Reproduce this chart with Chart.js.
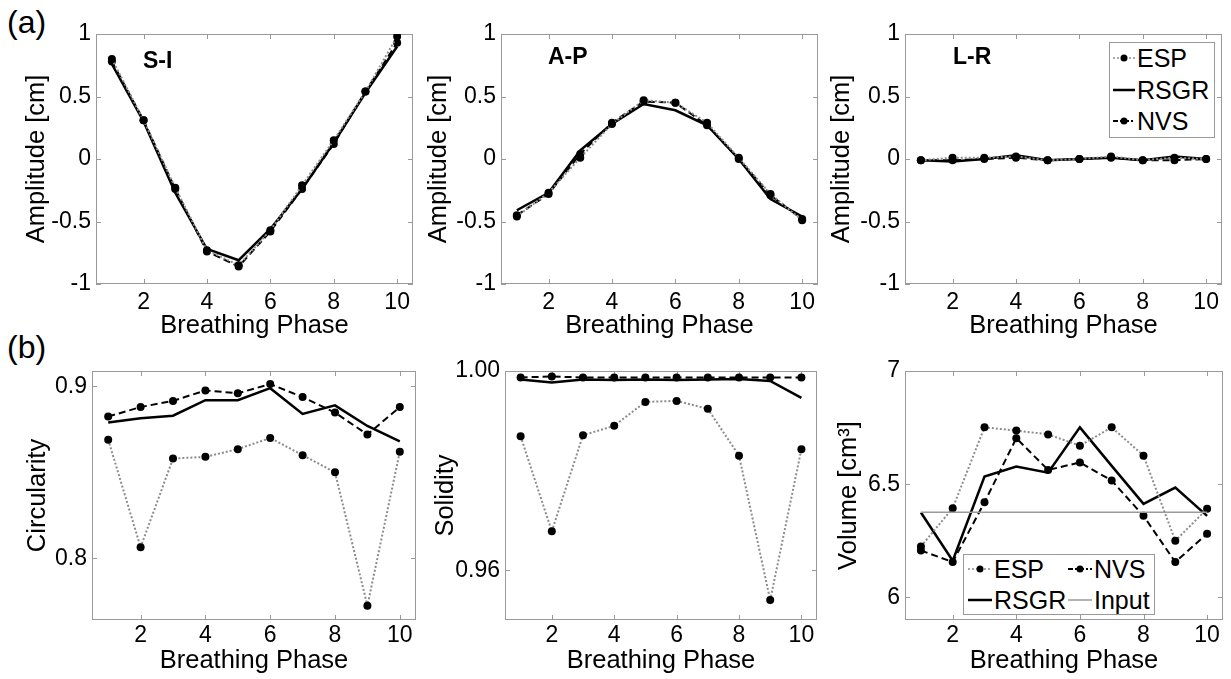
<!DOCTYPE html>
<html>
<head>
<meta charset="utf-8">
<script src="https://cdn.jsdelivr.net/npm/chart.js@4.4.0/dist/chart.umd.min.js"></script>
<style>
  body { margin: 0; background: #fff; width: 1231px; height: 679px; position: relative; overflow: hidden;
         font-family: "Liberation Sans", Arial, sans-serif; color: #000; }
  canvas { position: absolute; }
  .tag { position: absolute; font-size: 32px; line-height: 32px; }
  .ptitle { position: absolute; font-size: 23px; line-height: 24px; font-weight: bold; }
  .legend { position: absolute; border: 1px solid #9a9a9a; background: #fff; box-sizing: border-box; }
  .item { position: absolute; display: flex; align-items: center; height: 28px; font-size: 25px; white-space: nowrap; }
  .item svg { margin-right: 2px; }
</style>
</head>
<body>
<div class="tag" style="left:7px;top:6px">(a)</div>
<div class="tag" style="left:7px;top:331px">(b)</div>

<canvas id="si" width="420" height="345" style="left:0;top:0"></canvas>
<canvas id="ap" width="405" height="345" style="left:420px;top:0"></canvas>
<canvas id="lr" width="406" height="345" style="left:825px;top:0"></canvas>
<canvas id="circ" width="420" height="344" style="left:0;top:335px"></canvas>
<canvas id="sol" width="405" height="344" style="left:420px;top:335px"></canvas>
<canvas id="vol" width="406" height="344" style="left:825px;top:335px"></canvas>

<div class="ptitle" style="left:143px;top:48px">S-I</div>
<div class="ptitle" style="left:548px;top:44px">A-P</div>
<div class="ptitle" style="left:953px;top:44px">L-R</div>

<div class="legend" style="left:1109px;top:42px;width:106px;height:96px">
  <div class="item" style="left:3px;top:1px"><svg width="22" height="10"><line x1="0" y1="5" x2="22" y2="5" stroke="#8c8c8c" stroke-width="1.5" stroke-dasharray="2,2"/><circle cx="11" cy="5" r="3.5" fill="#000"/></svg>ESP</div>
  <div class="item" style="left:3px;top:33px"><svg width="22" height="10"><line x1="0" y1="5" x2="22" y2="5" stroke="#000" stroke-width="2.5"/></svg>RSGR</div>
  <div class="item" style="left:3px;top:64px"><svg width="22" height="10"><line x1="0" y1="5" x2="22" y2="5" stroke="#000" stroke-width="2" stroke-dasharray="5,2,2,2"/><circle cx="11" cy="5" r="3.5" fill="#000"/></svg>NVS</div>
</div>

<div class="legend" style="left:963px;top:554px;width:192px;height:61px">
  <div class="item" style="left:4px;top:0px"><svg width="24" height="10"><line x1="0" y1="5" x2="24" y2="5" stroke="#8c8c8c" stroke-width="1.5" stroke-dasharray="2,2"/><circle cx="12" cy="5" r="3.5" fill="#000"/></svg>ESP</div>
  <div class="item" style="left:104px;top:0px"><svg width="24" height="10"><line x1="0" y1="5" x2="24" y2="5" stroke="#000" stroke-width="2" stroke-dasharray="5,2,2,2"/><circle cx="12" cy="5" r="3.5" fill="#000"/></svg>NVS</div>
  <div class="item" style="left:4px;top:31px"><svg width="24" height="10"><line x1="0" y1="5" x2="24" y2="5" stroke="#000" stroke-width="2.5"/></svg>RSGR</div>
  <div class="item" style="left:104px;top:31px"><svg width="24" height="10"><line x1="0" y1="5" x2="24" y2="5" stroke="#999" stroke-width="1.5"/></svg>Input</div>
</div>

<script>
// ---- data ----
const phases = [1, 2, 3, 4, 5, 6, 7, 8, 9, 10];
const phaseTicks = [2, 4, 6, 8, 10];

const ampTicks = [-1, -0.5, 0, 0.5, 1];
const siESP  = [0.80, 0.31, -0.23, -0.73, -0.85, -0.57, -0.21, 0.15, 0.54, 0.98];
const siNVS  = [0.78, 0.31, -0.24, -0.74, -0.86, -0.58, -0.24, 0.12, 0.54, 0.93];
const siRSGR = [0.76, 0.30, -0.27, -0.72, -0.81, -0.56, -0.24, 0.13, 0.53, 0.90];

const apESP  = [-0.46, -0.27, 0.01, 0.28, 0.47, 0.45, 0.29, 0.01, -0.28, -0.49];
const apNVS  = [-0.45, -0.28, 0.04, 0.29, 0.46, 0.45, 0.27, 0.00, -0.29, -0.48];
const apRSGR = [-0.41, -0.27, 0.07, 0.28, 0.44, 0.39, 0.27, 0.00, -0.32, -0.46];

const lrESP  = [-0.01, 0.01, 0.01, 0.02, -0.01, 0.00, 0.02, -0.01, 0.01, 0.00];
const lrNVS  = [-0.01, -0.01, 0.00, 0.01, -0.01, 0.00, 0.01, -0.01, -0.01, 0.00];
const lrRSGR = [-0.01, -0.02, 0.00, 0.03, -0.01, 0.00, 0.01, -0.01, 0.02, 0.00];

const circTicks = [0.8, 0.9];
const circESP  = [0.869, 0.8064, 0.858, 0.859, 0.8635, 0.870, 0.860, 0.850, 0.7723, 0.862];
const circNVS  = [0.8825, 0.888, 0.8916, 0.8977, 0.896, 0.9014, 0.8938, 0.8848, 0.872, 0.888];
const circRSGR = [0.879, 0.8815, 0.883, 0.892, 0.892, 0.899, 0.884, 0.889, 0.877, 0.868];

const solTicks = [0.96, 1.00];
const solESP  = [0.9869, 0.9678, 0.9871, 0.9890, 0.9938, 0.9940, 0.9924, 0.9830, 0.9540, 0.9843];
const solNVS  = [0.9987, 0.9989, 0.9987, 0.9987, 0.9987, 0.9987, 0.9987, 0.9987, 0.9987, 0.9987];
const solRSGR = [0.9983, 0.9977, 0.9983, 0.9982, 0.9983, 0.9982, 0.9983, 0.9984, 0.9980, 0.9946];

const volTicks = [6, 6.5, 7];
const volESP   = [6.225, 6.394, 6.751, 6.737, 6.720, 6.670, 6.751, 6.626, 6.250, 6.391];
const volNVS   = [6.207, 6.156, 6.420, 6.703, 6.563, 6.596, 6.516, 6.360, 6.156, 6.281];
const volRSGR  = [6.375, 6.162, 6.534, 6.578, 6.551, 6.751, 6.581, 6.413, 6.485, 6.360];
const volInput = [6.376, 6.376, 6.376, 6.376, 6.376, 6.376, 6.376, 6.376, 6.376, 6.376];

// ---- styling ----
const FONT = '"Liberation Sans", Arial, sans-serif';

const toPoints = vals => phases.map((p, i) => ({ x: p, y: vals[i] }));

function esp(vals) {
  return { data: toPoints(vals), borderColor: '#8c8c8c', borderWidth: 2, borderDash: [2, 2],
           pointRadius: 4, pointBackgroundColor: '#000', pointBorderWidth: 0 };
}
function nvs(vals) {
  return { data: toPoints(vals), borderColor: '#000', borderWidth: 2, borderDash: [7, 4],
           pointRadius: 4, pointBackgroundColor: '#000', pointBorderWidth: 0 };
}
function rsgr(vals) {
  return { data: toPoints(vals), borderColor: '#000', borderWidth: 2.5, pointRadius: 0 };
}
function inputLine(vals) {
  return { data: toPoints(vals), borderColor: '#9a9a9a', borderWidth: 1.5, pointRadius: 0 };
}

// MATLAB-style box with inward ticks on all four sides
const boxTicks = {
  id: 'boxTicks',
  beforeDatasetsDraw(chart) {
    const { ctx, chartArea: a, scales: { x, y } } = chart;
    ctx.save();
    ctx.strokeStyle = '#9a9a9a';
    ctx.lineWidth = 1;
    ctx.strokeRect(a.left + 0.5, a.top + 0.5, a.width - 1, a.height - 1);
    ctx.beginPath();
    x.ticks.forEach((t, i) => {
      const px = Math.round(x.getPixelForTick(i)) + 0.5;
      ctx.moveTo(px, a.bottom); ctx.lineTo(px, a.bottom - 5);
      ctx.moveTo(px, a.top); ctx.lineTo(px, a.top + 5);
    });
    y.ticks.forEach((t, i) => {
      const py = Math.round(y.getPixelForTick(i)) + 0.5;
      ctx.moveTo(a.left, py); ctx.lineTo(a.left + 5, py);
      ctx.moveTo(a.right, py); ctx.lineTo(a.right - 5, py);
    });
    ctx.stroke();
    ctx.restore();
  }
};

function makePanel(id, opt) {
  new Chart(document.getElementById(id), {
    type: 'line',
    data: { datasets: opt.datasets },
    options: {
      responsive: false,
      animation: false,
      layout: { padding: { top: opt.padTop, right: opt.padRight, left: 0, bottom: 0 } },
      plugins: { legend: { display: false }, tooltip: { enabled: false } },
      scales: {
        x: {
          type: 'linear', min: 0.5, max: 10.5,
          grid: { display: false, drawTicks: false },
          border: { display: false },
          afterBuildTicks: s => { s.ticks = phaseTicks.map(v => ({ value: v })); },
          afterFit: s => { s.height = opt.xHeight; },
          ticks: { autoSkip: false, maxRotation: 0, padding: opt.xTickPad, color: '#000',
                   font: { family: FONT, size: 23 } },
          title: { display: true, text: 'Breathing Phase', color: '#000',
                   font: { family: FONT, size: 25.5 }, padding: { top: 0, bottom: opt.xTitlePad } }
        },
        y: {
          min: opt.yMin, max: opt.yMax,
          grid: { display: false, drawTicks: false },
          border: { display: false },
          afterBuildTicks: s => { s.ticks = opt.yTicks.map(v => ({ value: v })); },
          afterFit: s => { s.width = opt.yWidth; },
          ticks: { autoSkip: false, padding: 5, color: '#000', font: { family: FONT, size: 23 },
                   callback: opt.fmt || (v => String(v)) },
          title: { display: true, text: opt.yTitle, color: '#000',
                   font: { family: FONT, size: 25.5 }, padding: { top: opt.yTitlePad, bottom: 0 } }
        }
      }
    },
    plugins: [boxTicks]
  });
}

const amp = { yMin: -1, yMax: 1, yTicks: ampTicks, yTitle: 'Amplitude [cm]',
              padTop: 34, xHeight: 61, xTickPad: 5, xTitlePad: 4 };

makePanel('si', Object.assign({}, amp, { yWidth: 96, padRight: 7, yTitlePad: 22,
  datasets: [esp(siESP), nvs(siNVS), rsgr(siRSGR)] }));
makePanel('ap', Object.assign({}, amp, { yWidth: 81, padRight: 7, yTitlePad: 4,
  datasets: [esp(apESP), nvs(apNVS), rsgr(apRSGR)] }));
makePanel('lr', Object.assign({}, amp, { yWidth: 80, padRight: 9, yTitlePad: 2,
  datasets: [esp(lrESP), nvs(lrNVS), rsgr(lrRSGR)] }));

const row2 = { padTop: 36, xHeight: 59, xTickPad: 2, xTitlePad: 3 };

makePanel('circ', Object.assign({}, row2, { yMin: 0.764, yMax: 0.909, yTicks: circTicks,
  yTitle: 'Circularity', yWidth: 92, padRight: 3, yTitlePad: 23,
  datasets: [esp(circESP), nvs(circNVS), rsgr(circRSGR)] }));
makePanel('sol', Object.assign({}, row2, { yMin: 0.95, yMax: 1.0, yTicks: solTicks,
  yTitle: 'Solidity', yWidth: 85, padRight: 8, yTitlePad: 11, fmt: v => v.toFixed(2),
  datasets: [esp(solESP), nvs(solNVS), rsgr(solRSGR)] }));
makePanel('vol', Object.assign({}, row2, { yMin: 5.9, yMax: 7, yTicks: volTicks,
  yTitle: 'Volume [cm³]', yWidth: 80, padRight: 8, yTitlePad: 9,
  datasets: [inputLine(volInput), esp(volESP), nvs(volNVS), rsgr(volRSGR)] }));
</script>
</body>
</html>
